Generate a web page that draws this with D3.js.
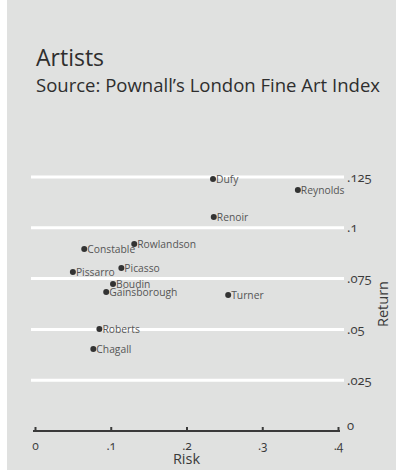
<!DOCTYPE html>
<html>
<head>
<meta charset="utf-8">
<script src="https://cdn.jsdelivr.net/npm/d3@7"></script>
<style>
  body { margin: 0; background: #fff; }
  svg text { font-family: "Open Sans", Lato, sans-serif; font-variant-numeric: oldstyle-nums; }
</style>
</head>
<body>
<svg id="chart" width="396" height="470"></svg>
<script>
// artists, risk (x) and return (y)
var artists = ["Dufy", "Reynolds", "Renoir", "Constable", "Rowlandson", "Picasso",
               "Pissarro", "Boudin", "Gainsborough", "Turner", "Roberts", "Chagall"];
var risk    = [0.235, 0.347, 0.236, 0.065, 0.131, 0.114, 0.050, 0.103, 0.094, 0.255, 0.085, 0.077];
var returns = [0.124, 0.1186, 0.1053, 0.0896, 0.092, 0.0802, 0.0782, 0.0723, 0.0684, 0.0669, 0.0502, 0.0404];

var xTicks = [0, 0.1, 0.2, 0.3, 0.4];
var yTicks = [0.025, 0.05, 0.075, 0.1, 0.125];

var svg = d3.select("#chart"),
    width = +svg.attr("width"),
    height = +svg.attr("height");

// grey panel
svg.append("rect")
    .attr("x", 7).attr("y", 0)
    .attr("width", width - 7).attr("height", height)
    .attr("fill", "#e0e1e0");

var x = d3.scaleLinear().domain([0, 0.4]).range([35, 338]);
var y = d3.scaleLinear().domain([0, 0.125]).range([431, 177]);

var fmt = function(d) { return d === 0 ? "0" : d3.format(".3~f")(d).replace(/^0/, ""); };

// titles
svg.append("text")
    .attr("x", 36).attr("y", 66)
    .style("font-size", "23px")
    .attr("fill", "#2e2e2e")
    .text("Artists");

svg.append("text")
    .attr("x", 36).attr("y", 92)
    .style("font-size", "17.5px")
    .attr("fill", "#2e2e2e")
    .attr("textLength", 344)
    .attr("lengthAdjust", "spacingAndGlyphs")
    .text("Source: Pownall\u2019s London Fine Art Index");

// white grid lines
svg.append("g")
    .selectAll("line")
    .data(yTicks)
    .enter().append("line")
      .attr("x1", 31).attr("x2", 344)
      .attr("y1", function(d) { return y(d); })
      .attr("y2", function(d) { return y(d); })
      .attr("stroke", "#ffffff")
      .attr("stroke-width", 3);

// y labels on the right
var yAxis = svg.append("g")
    .attr("transform", "translate(343,0)")
    .call(d3.axisRight(y).tickValues([0].concat(yTicks)).tickSize(0).tickPadding(4).tickFormat(fmt));
yAxis.select(".domain").remove();
yAxis.selectAll("text")
    .style("font-size", "13px")
    .attr("fill", "#3a3a3a");
yAxis.selectAll(".tick").filter(function(d) { return d === 0; })
    .select("text").attr("dy", "-0.1em");

// x axis
var xAxis = svg.append("g")
    .attr("transform", "translate(0," + y(0) + ")")
    .call(d3.axisBottom(x).tickValues(xTicks).tickSize(-4).tickSizeOuter(0).tickPadding(10).tickFormat(fmt));
xAxis.select(".domain")
    .attr("stroke", "#3a3a3a")
    .attr("stroke-width", 2)
    .attr("d", "M33,0H340");
xAxis.selectAll(".tick line")
    .attr("stroke", "#3a3a3a")
    .attr("stroke-width", 2);
xAxis.selectAll("text")
    .style("font-size", "12px")
    .attr("fill", "#3a3a3a");

// axis titles
svg.append("text")
    .attr("x", x(0.2)).attr("y", 464)
    .attr("text-anchor", "middle")
    .style("font-size", "14.5px")
    .attr("fill", "#3a3a3a")
    .text("Risk");

svg.append("text")
    .attr("transform", "translate(388,304) rotate(-90)")
    .attr("text-anchor", "middle")
    .style("font-size", "14.5px")
    .attr("fill", "#3a3a3a")
    .text("Return");

// points
var pts = svg.append("g")
    .selectAll("g")
    .data(artists)
    .enter().append("g")
      .attr("transform", function(d, i) { return "translate(" + x(risk[i]) + "," + y(returns[i]) + ")"; });

pts.append("circle")
    .attr("r", 3)
    .attr("fill", "#333");

pts.append("text")
    .attr("x", 3)
    .attr("dy", "0.35em")
    .style("font-size", "10.3px")
    .attr("fill", "#555")
    .text(function(d) { return d; });
</script>
</body>
</html>
